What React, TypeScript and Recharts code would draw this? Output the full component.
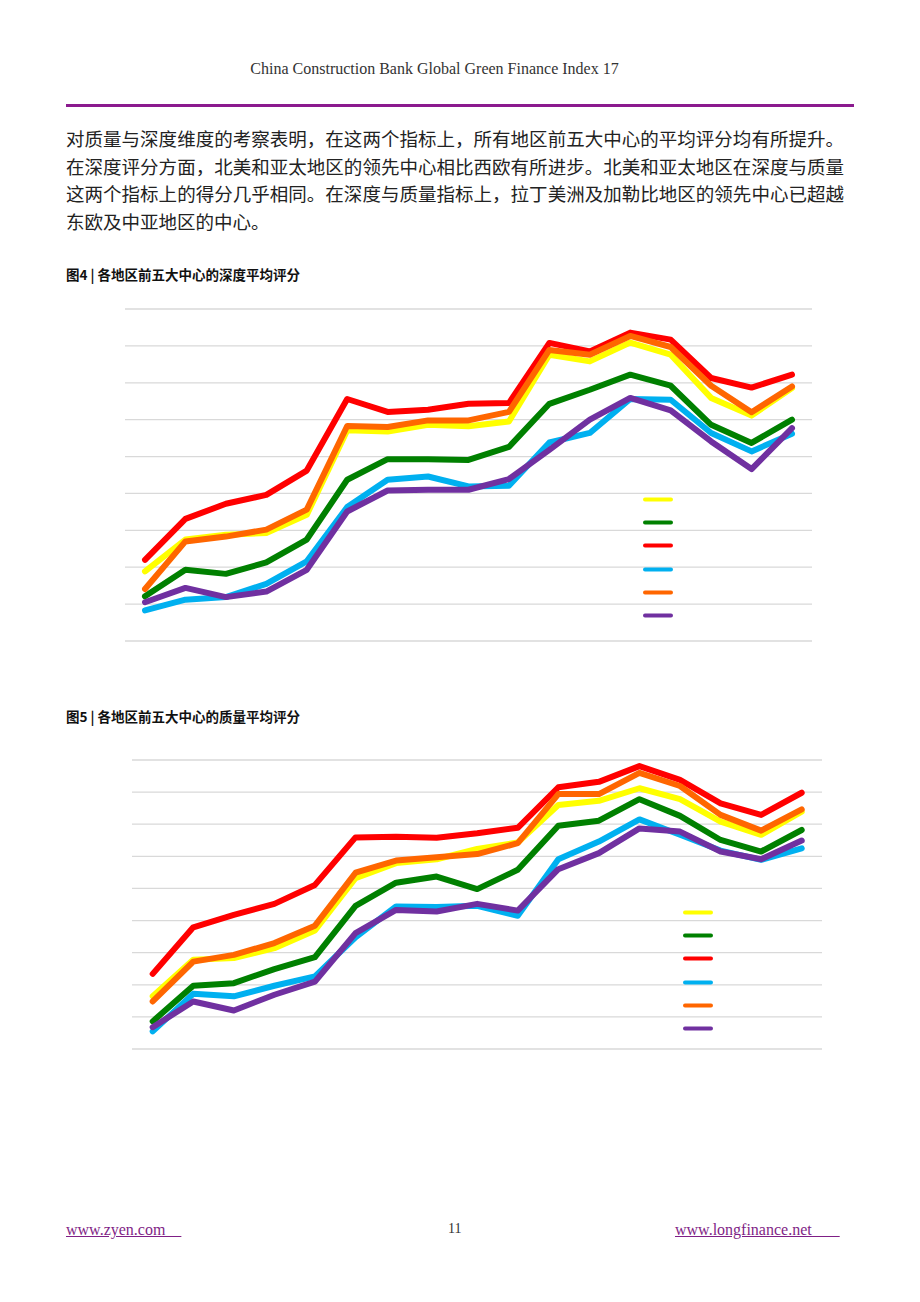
import { LineChart, Line, XAxis, YAxis, CartesianGrid, Legend } from "recharts"

const editions = [
  "GGFI 1", "GGFI 2", "GGFI 3", "GGFI 4", "GGFI 5", "GGFI 6", "GGFI 7", "GGFI 8", "GGFI 9",
  "GGFI 10", "GGFI 11", "GGFI 12", "GGFI 13", "GGFI 14", "GGFI 15", "GGFI 16", "GGFI 17",
]

const yTicks = [0, 1, 2, 3, 4, 5, 6, 7, 8, 9]

// 图4 深度
const depthYellow = [1.89, 2.75, 2.88, 2.93, 3.42, 5.71, 5.68, 5.86, 5.82, 5.95, 7.76, 7.58, 8.09, 7.76, 6.59, 6.11, 6.86]
const depthGreen = [1.21, 1.93, 1.82, 2.13, 2.75, 4.37, 4.93, 4.93, 4.91, 5.26, 6.43, 6.81, 7.22, 6.92, 5.86, 5.37, 6.0]
const depthRed = [2.2, 3.31, 3.72, 3.96, 4.62, 6.56, 6.21, 6.27, 6.43, 6.45, 8.08, 7.85, 8.36, 8.17, 7.13, 6.87, 7.22]
const depthBlue = [0.83, 1.12, 1.19, 1.55, 2.16, 3.63, 4.37, 4.46, 4.19, 4.21, 5.38, 5.64, 6.56, 6.54, 5.64, 5.14, 5.62]
const depthOrange = [1.41, 2.7, 2.83, 3.02, 3.56, 5.83, 5.8, 5.98, 5.98, 6.21, 7.89, 7.76, 8.27, 7.97, 6.92, 6.2, 6.9]
const depthPurple = [1.05, 1.44, 1.19, 1.34, 1.93, 3.51, 4.08, 4.1, 4.1, 4.39, 5.18, 6.0, 6.59, 6.25, 5.41, 4.66, 5.77]

// 图5 质量
const qualityYellow = [1.64, 2.78, 2.83, 3.14, 3.69, 5.32, 5.79, 5.91, 6.23, 6.43, 7.6, 7.73, 8.12, 7.78, 7.08, 6.67, 7.39]
const qualityGreen = [0.86, 1.97, 2.05, 2.49, 2.86, 4.46, 5.18, 5.37, 4.98, 5.58, 6.95, 7.11, 7.78, 7.26, 6.51, 6.15, 6.82]
const qualityRed = [2.34, 3.79, 4.18, 4.52, 5.11, 6.59, 6.61, 6.58, 6.72, 6.89, 8.15, 8.32, 8.81, 8.38, 7.65, 7.29, 7.98]
const qualityBlue = [0.55, 1.72, 1.64, 1.97, 2.26, 3.48, 4.44, 4.42, 4.46, 4.15, 5.91, 6.46, 7.15, 6.67, 6.18, 5.89, 6.25]
const qualityOrange = [1.48, 2.72, 2.93, 3.3, 3.84, 5.49, 5.87, 5.97, 6.07, 6.41, 7.94, 7.94, 8.6, 8.19, 7.29, 6.8, 7.46]
const qualityPurple = [0.68, 1.48, 1.2, 1.69, 2.1, 3.61, 4.33, 4.28, 4.52, 4.31, 5.6, 6.1, 6.87, 6.77, 6.15, 5.91, 6.49]

const seriesKeys = ["yellow", "green", "red", "blue", "orange", "purple"]
const seriesColors = ["#FFFF00", "#008000", "#FF0000", "#00B0F0", "#FF6600", "#7030A0"]

function buildRows(series: number[][]) {
  return editions.map((edition, i) => {
    const row: Record<string, string | number> = { edition }
    series.forEach((values, j) => {
      row[seriesKeys[j]] = values[i]
    })
    return row
  })
}

const depthData = buildRows([depthYellow, depthGreen, depthRed, depthBlue, depthOrange, depthPurple])
const qualityData = buildRows([qualityYellow, qualityGreen, qualityRed, qualityBlue, qualityOrange, qualityPurple])

// legend in series order (recharts sorts it by name otherwise)
function LegendLines(props: any) {
  const items = [...(props.payload || [])].sort(
    (a: any, b: any) => seriesKeys.indexOf(a.dataKey) - seriesKeys.indexOf(b.dataKey)
  )
  return (
    <div>
      {items.map((item: any) => (
        <svg key={item.dataKey} width={33} height={23.2} style={{ display: "block" }}>
          <line x1={3} x2={29} y1={11.6} y2={11.6} stroke={item.color} strokeWidth={4} strokeLinecap="round" />
        </svg>
      ))}
    </div>
  )
}

type ChartProps = {
  data: Record<string, string | number>[]
  width: number
  height: number
  padLeft: number
  padRight: number
  legendLeft: number
  legendTop: number
}

function ScoreChart({ data, width, height, padLeft, padRight, legendLeft, legendTop }: ChartProps) {
  return (
    <LineChart width={width} height={height} data={data} margin={{ top: 5, right: 5, bottom: 5, left: 5 }}>
      <CartesianGrid vertical={false} stroke="#d9d9d9" strokeWidth={1.3} />
      <XAxis dataKey="edition" hide padding={{ left: padLeft, right: padRight }} />
      <YAxis hide domain={[0, 9]} ticks={yTicks} />
      <Legend
        layout="vertical"
        align="center"
        verticalAlign="middle"
        wrapperStyle={{ left: legendLeft, top: legendTop, width: 33 }}
        content={<LegendLines />}
      />
      {seriesKeys.map((key, i) => (
        <Line
          key={key}
          type="linear"
          dataKey={key}
          stroke={seriesColors[i]}
          strokeWidth={6}
          strokeLinecap="round"
          strokeLinejoin="round"
          dot={false}
          activeDot={false}
          isAnimationActive={false}
        />
      ))}
    </LineChart>
  )
}

const serif = "'Liberation Serif', 'DejaVu Serif', serif"
const cjk = "'Noto Sans CJK SC', 'Noto Sans', sans-serif"

const paragraph = [
  "对质量与深度维度的考察表明，在这两个指标上，所有地区前五大中心的平均评分均有所提升。",
  "在深度评分方面，北美和亚太地区的领先中心相比西欧有所进步。北美和亚太地区在深度与质量",
  "这两个指标上的得分几乎相同。在深度与质量指标上，拉丁美洲及加勒比地区的领先中心已超越",
  "东欧及中亚地区的中心。",
]

export default function App() {
  return (
    <div style={{ position: "absolute", left: 0, top: 0, width: 920, height: 1302, background: "#fff" }}>
      <div style={{ position: "absolute", left: 0, top: 60, width: 869, textAlign: "center", fontFamily: serif, fontSize: 16, color: "#333" }}>
        China Construction Bank Global Green Finance Index 17
      </div>
      <div style={{ position: "absolute", left: 66, top: 104, width: 788, height: 3, background: "#8B1A8E" }} />

      {paragraph.map((line, i) => (
        <div
          key={i}
          style={{
            position: "absolute",
            left: 66,
            top: 125 + i * 27.7,
            width: 778,
            lineHeight: "27.7px",
            fontFamily: cjk,
            fontSize: 18.5,
            color: "#222",
            textAlign: "justify",
            textAlignLast: i < 3 ? "justify" : "left",
          }}
        >
          {line}
        </div>
      ))}

      <div style={{ position: "absolute", left: 66, top: 264, fontFamily: cjk, fontSize: 13.5, fontWeight: 700, color: "#111" }}>
        图4 | 各地区前五大中心的深度平均评分
      </div>
      <div style={{ position: "absolute", left: 120, top: 304 }}>
        <ScoreChart data={depthData} width={697} height={342} padLeft={20} padRight={20} legendLeft={522} legendTop={184} />
      </div>

      <div style={{ position: "absolute", left: 66, top: 706, fontFamily: cjk, fontSize: 13.5, fontWeight: 700, color: "#111" }}>
        图5 | 各地区前五大中心的质量平均评分
      </div>
      <div style={{ position: "absolute", left: 127, top: 755 }}>
        <ScoreChart data={qualityData} width={700} height={299} padLeft={20.7} padRight={20.3} legendLeft={555} legendTop={146} />
      </div>

      <div style={{ position: "absolute", left: 66, top: 1221, fontFamily: serif, fontSize: 16, color: "#7F1F86", textDecoration: "underline", whiteSpace: "pre" }}>
        {"www.zyen.com\u00a0\u00a0\u00a0\u00a0"}
      </div>
      <div style={{ position: "absolute", left: 448, top: 1221, fontFamily: serif, fontSize: 14, color: "#333" }}>11</div>
      <div style={{ position: "absolute", left: 675, top: 1221, fontFamily: serif, fontSize: 16, color: "#7F1F86", textDecoration: "underline", whiteSpace: "pre" }}>
        {"www.longfinance.net\u00a0\u00a0\u00a0\u00a0\u00a0\u00a0\u00a0"}
      </div>
    </div>
  )
}
